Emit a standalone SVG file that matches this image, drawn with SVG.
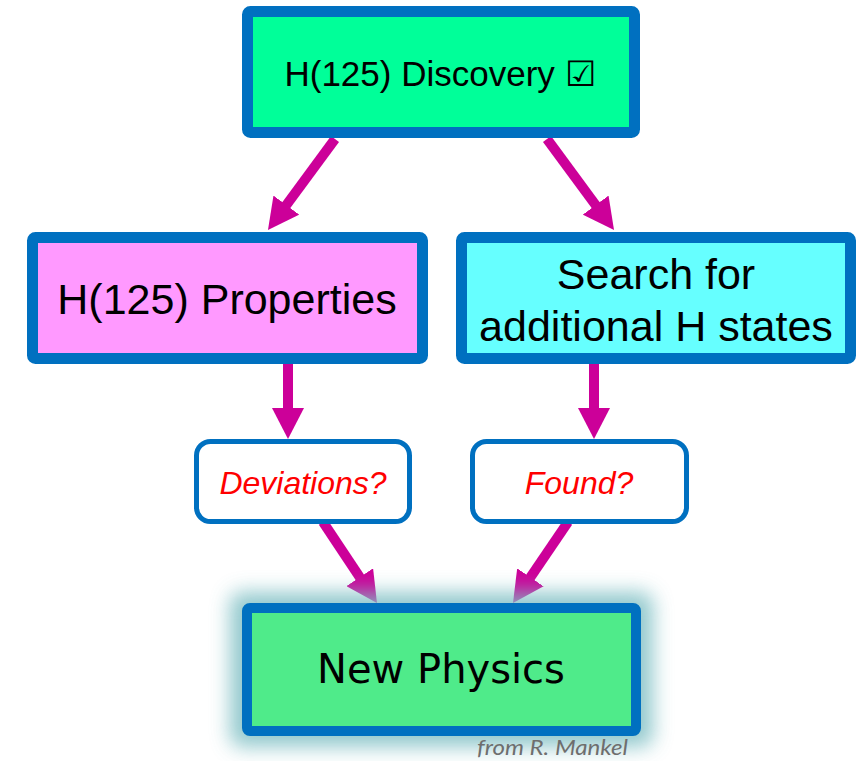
<svg xmlns="http://www.w3.org/2000/svg" width="867" height="761" viewBox="0 0 867 761">
<style>
.box{stroke:#0070C0;stroke-width:11}
.q{fill:#FFFFFF;stroke:#0070C0;stroke-width:5}
.t{font-family:"Liberation Sans",Arial,sans-serif;fill:#000;text-anchor:middle}
.qt{font-family:"Liberation Sans",Arial,sans-serif;font-style:italic;fill:#FF0000;text-anchor:middle;font-size:32px}
.arr{stroke:#CC0099;stroke-width:10;fill:none;marker-end:url(#ah)}
</style>
<defs>
<marker id="ah" viewBox="0 0 31 32" refX="6" refY="16" markerWidth="31" markerHeight="32" markerUnits="userSpaceOnUse" orient="auto">
<path d="M0,0 L31,16 L0,32 z" fill="#CC0099"/>
</marker>
<filter id="glow" x="-20%" y="-30%" width="140%" height="160%">
<feGaussianBlur stdDeviation="10"/>
</filter>
</defs>
<rect width="867" height="761" fill="#FFFFFF"/>
<g id="connectors">
<line class="arr" x1="335" y1="139" x2="282.8" y2="209.9"/>
<line class="arr" x1="547" y1="139" x2="599.2" y2="209.9"/>
<line class="arr" x1="288" y1="364" x2="288" y2="414"/>
<line class="arr" x1="594" y1="364" x2="594" y2="414"/>
<line class="arr" x1="323" y1="522" x2="363.1" y2="582.2"/>
<line class="arr" x1="568" y1="522" x2="527.05" y2="582.3"/>
</g>
<g id="discovery">
<rect class="box" x="247.5" y="11.5" width="387" height="121" rx="3" fill="#00FF99"/>
<text class="t" x="440" y="86" font-size="35">H(125) Discovery ☑</text>
</g>
<g id="properties">
<rect class="box" x="32.5" y="237.5" width="390" height="121" rx="3" fill="#FF99FF"/>
<text class="t" x="227" y="314" font-size="43">H(125) Properties</text>
</g>
<g id="search">
<rect class="box" x="461.5" y="237.5" width="389" height="121" rx="3" fill="#66FFFF"/>
<text class="t" x="656" y="289" font-size="43">Search for</text>
<text class="t" x="656" y="341" font-size="43">additional H states</text>
</g>
<g id="deviations">
<rect class="q" x="196.5" y="441.5" width="213" height="80" rx="14"/>
<text class="qt" x="303" y="494">Deviations?</text>
</g>
<g id="found">
<rect class="q" x="472.5" y="441.5" width="214" height="80" rx="14"/>
<text class="qt" x="579" y="494">Found?</text>
</g>
<g id="newphysics">
<rect x="230" y="592" width="423" height="155" rx="12" fill="#7FBFC4" opacity="0.85" filter="url(#glow)"/>
<rect x="247" y="608" width="389" height="123" rx="3" fill="#4FEB8A" stroke="#0070C0" stroke-width="10"/>
<text x="441" y="683" font-family="'DejaVu Sans',sans-serif" font-size="40" text-anchor="middle" fill="#000">New Physics</text>
</g>
<text x="477" y="755" font-family="Lato,'Liberation Sans',sans-serif" font-style="italic" font-size="21" fill="#6E6E6E" textLength="151" lengthAdjust="spacingAndGlyphs">from R. Mankel</text>
</svg>
